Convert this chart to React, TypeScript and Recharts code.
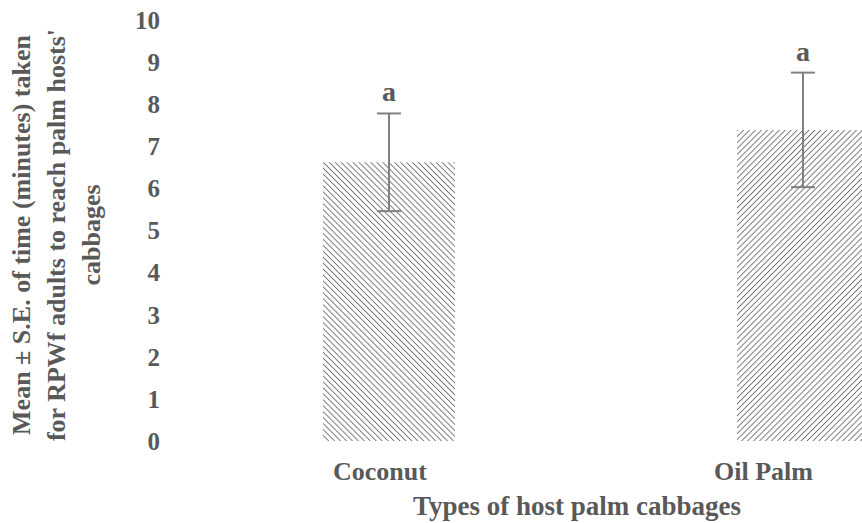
import React from "react"
import { ComposedChart, Bar, Cell, Line, XAxis, YAxis, ErrorBar, LabelList, Label } from "recharts"

const categories = ["Coconut", "Oil Palm"]
const means = [6.62, 7.39]
const errors = [1.16, 1.36]
const letters = ["a", "a"]
const yTicks = [0, 1, 2, 3, 4, 5, 6, 7, 8, 9, 10]
const hatchIds = ["hatchBack", "hatchFwd"]

const TEXT = "#595959"
const FONT = "Liberation Serif, Tinos, Times New Roman, DejaVu Serif, serif"
const VISIBLE_RIGHT = 813

const data = categories.map((name, i) => ({
  name,
  mean: means[i],
  err: errors[i],
  top: means[i] + errors[i],
  letter: letters[i],
}))

const txt = (size: number) => ({ fontFamily: FONT, fontWeight: 700, fontSize: size, fill: TEXT })

const XTick = ({ x, y, payload }: any) => {
  let cx = x - 9
  let anchor: "middle" | "end" = "middle"
  // the source picture is cropped on the right, its last label is pulled inside
  if (cx + 52 > VISIBLE_RIGHT) {
    cx = VISIBLE_RIGHT
    anchor = "end"
  }
  return (
    <text x={cx} y={y + 31} textAnchor={anchor} style={txt(26)}>
      {payload.value}
    </text>
  )
}

const YTitle = () => {
  const lines = [
    { x: 30, t: "Mean ± S.E. of time (minutes) taken" },
    { x: 65, t: "for RPWf adults to reach palm hosts'" },
    { x: 100, t: "cabbages" },
  ]
  return (
    <g>
      {lines.map((l) => (
        <text
          key={l.t}
          x={l.x}
          y={235}
          transform={`rotate(-90, ${l.x}, 235)`}
          textAnchor="middle"
          style={txt(26)}
        >
          {l.t}
        </text>
      ))}
    </g>
  )
}

const XTitle = ({ viewBox }: any) => (
  <text x={viewBox.x + 395} y={viewBox.y + 74} textAnchor="middle" style={txt(27)}>
    Types of host palm cabbages
  </text>
)

export default function App() {
  return (
    <div style={{ position: "absolute", left: 0, top: 0, width: 862, height: 523, overflow: "hidden", background: "#fff" }}>
      <ComposedChart width={1030} height={523} data={data} margin={{ top: 20, right: 20, bottom: 0, left: 0 }}>
        <defs>
          <pattern id="hatchBack" patternUnits="userSpaceOnUse" width={4.2} height={4.2} patternTransform="rotate(-45)">
            <line x1={0} y1={0} x2={0} y2={4.2} stroke="#6f6f6f" strokeWidth={1.8} />
          </pattern>
          <pattern id="hatchFwd" patternUnits="userSpaceOnUse" width={4.2} height={4.2} patternTransform="rotate(45)">
            <line x1={0} y1={0} x2={0} y2={4.2} stroke="#6f6f6f" strokeWidth={1.8} />
          </pattern>
        </defs>
        <XAxis dataKey="name" axisLine={false} tickLine={false} height={82} tick={<XTick />} interval={0}>
          <Label content={<XTitle />} />
        </XAxis>
        <YAxis
          width={182}
          domain={[0, 10]}
          ticks={yTicks}
          axisLine={false}
          tickLine={false}
          tickMargin={16}
          tick={{ fill: TEXT, style: txt(25) }}
        >
          <Label content={<YTitle />} />
        </YAxis>
        <Bar dataKey="mean" barSize={132} isAnimationActive={false}>
          {data.map((d, i) => (
            <Cell key={d.name} fill={`url(#${hatchIds[i]})`} />
          ))}
          <ErrorBar dataKey="err" width={12} stroke="#808080" strokeWidth={2} />
        </Bar>
        <Line dataKey="top" stroke="none" dot={false} activeDot={false} isAnimationActive={false} legendType="none">
          <LabelList dataKey="letter" position="top" offset={12} fill={TEXT} style={txt(28)} />
        </Line>
      </ComposedChart>
    </div>
  )
}
